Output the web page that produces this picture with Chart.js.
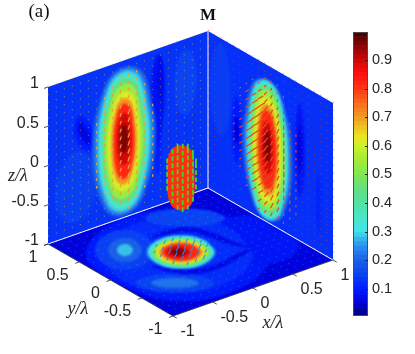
<!DOCTYPE html>
<html>
<head>
<meta charset="utf-8">
<script src="https://cdn.jsdelivr.net/npm/chart.js@4/dist/chart.umd.min.js"></script>
<style>
html,body{margin:0;padding:0;background:#fff;width:415px;height:354px;overflow:hidden}
canvas{position:absolute;top:0;display:block}
#scene{left:0}
#bar{left:340px}
</style>
</head>
<body>
<canvas id="scene" width="415" height="354"></canvas>
<canvas id="bar" width="75" height="354"></canvas>
<script>
/* ---------- axis ticks ---------- */
const xTicks = [-1, -0.5, 0, 0.5, 1];
const yTicks = [1, 0.5, 0, -0.5, -1];
const zTicks = [1, 0.5, 0, -0.5, -1];
const colorbarTicks = [0.1, 0.2, 0.3, 0.4, 0.5, 0.6, 0.7, 0.8, 0.9];

/* ---------- colour map stops ---------- */
const colorStops = [0, 0.05, 0.1, 0.15, 0.2, 0.25, 0.28, 0.3, 0.35, 0.4, 0.45, 0.5, 0.55, 0.6, 0.63, 0.66, 0.7, 0.75, 0.8, 0.85, 0.9, 0.95, 1];
const colorHex = ['#000070','#0000d8','#001cff','#0a44f2','#1a60e8','#2a90f0','#38c0ea','#40e4ea','#4ce6c8','#50e2a4','#64de80','#80e850','#a4ec38','#ccf028','#e8e820','#f0c820','#f09c20','#f86c1c','#ff3414','#ff1010','#d00808','#880404','#400000'];

/* ---------- left wall (y = 1): contours of |M| in (x, z) ---------- */
const leftWallBase = 0.13;
const leftWallLevels = [0.145, 0.15, 0.105, 0.085, 0.07, 0.1, 0.06, 0.2, 0.25, 0.29, 0.35, 0.44, 0.54, 0.62, 0.71, 0.82, 0.9, 0.96];
const leftWallX = [
 [-.38,-.46,-.65,-.84,-.92,-.84,-.65,-.46],
 [.86,.82,.72,.62,.58,.62,.72,.82],
 [.42,.41,.37,.33,.31,.33,.37,.41],
 [.46,.44,.38,.31,.28,.31,.36,.42],
 [.445,.43,.4,.37,.355,.37,.4,.43],
 [-.44,-.52,-.61,-.68,-.64,-.56,-.46,-.42],
 [-.50,-.54,-.60,-.63,-.60,-.55,-.49,-.47],
 [.35,.198,-.05,-.298,-.45,-.298,-.05,.198],
 [.31,.173,-.05,-.273,-.41,-.273,-.05,.173],
 [.275,.152,-.05,-.252,-.375,-.252,-.05,.152],
 [.25,.136,-.05,-.236,-.35,-.236,-.05,.136],
 [.22,.117,-.05,-.217,-.32,-.217,-.05,.117],
 [.19,.099,-.05,-.199,-.29,-.199,-.05,.099],
 [.15,.074,-.05,-.174,-.25,-.174,-.05,.074],
 [.11,.049,-.05,-.149,-.21,-.149,-.05,.049],
 [.08,.031,-.05,-.131,-.18,-.131,-.05,.031],
 [.04,.006,-.05,-.106,-.14,-.106,-.05,.006],
 [0,-.019,-.05,-.081,-.10,-.081,-.05,-.019]
];
const leftWallZ = [
 [-.4,-.085,.05,-.085,-.4,-.715,-.85,-.715],
 [.45,.74,.87,.74,.45,.16,.03,.16],
 [-.25,-.05,.1,-.05,-.25,-.45,-.6,-.45],
 [.35,.76,.93,.76,.35,-.06,-.25,-.06],
 [.6,.81,.9,.81,.6,.39,.3,.39],
 [.26,.42,.50,.36,.18,.04,0,.12],
 [.26,.34,.42,.33,.24,.14,.08,.15],
 [-.03,.749,.92,.749,-.03,-.809,-.98,-.809],
 [-.03,.724,.89,.724,-.03,-.784,-.95,-.784],
 [-.03,.70,.86,.70,-.03,-.76,-.92,-.76],
 [-.03,.667,.82,.667,-.03,-.727,-.88,-.727],
 [-.03,.626,.77,.626,-.03,-.686,-.83,-.686],
 [-.03,.569,.70,.569,-.03,-.629,-.76,-.629],
 [-.03,.487,.60,.487,-.03,-.547,-.66,-.547],
 [-.03,.421,.52,.421,-.03,-.481,-.58,-.481],
 [-.03,.364,.45,.364,-.03,-.424,-.51,-.424],
 [0,.27,.33,.27,0,-.27,-.33,-.27],
 [0,.148,.18,.148,0,-.148,-.18,-.148]
];

/* ---------- right wall (x = 1): contours in (y, z) ---------- */
const rightWallBase = 0.125;
const rightWallLevels = [0.14, 0.095, 0.05, 0.09, 0.05, 0.11, 0.2, 0.25, 0.29, 0.35, 0.44, 0.54, 0.62, 0.71, 0.82, 0.9, 0.96];
const rightWallY = [
 [.97,.92,.8,.68,.63,.68,.8,.92],
 [.62,.596,.54,.484,.46,.484,.54,.596],
 [.575,.565,.54,.515,.505,.515,.54,.565],
 [-.39,-.414,-.47,-.526,-.55,-.526,-.47,-.414],
 [-.435,-.445,-.47,-.495,-.505,-.495,-.47,-.445],
 [-.72,-.73,-.77,-.81,-.82,-.81,-.77,-.73],
 [.45,.298,.05,-.198,-.35,-.198,.05,.298],
 [.41,.273,.05,-.173,-.31,-.173,.05,.273],
 [.38,.255,.05,-.155,-.28,-.155,.05,.255],
 [.36,.242,.05,-.142,-.26,-.142,.05,.242],
 [.335,.227,.05,-.127,-.235,-.127,.05,.227],
 [.31,.211,.05,-.111,-.21,-.111,.05,.211],
 [.27,.186,.05,-.086,-.17,-.086,.05,.186],
 [.226,.159,.05,-.059,-.126,-.059,.05,.159],
 [.194,.139,.05,-.039,-.094,-.039,.05,.139],
 [.14,.106,.05,-.006,-.04,-.006,.05,.106],
 [.10,.081,.05,.019,0,.019,.05,.081]
];
const rightWallZ = [
 [.35,.77,.95,.77,.35,-.07,-.25,-.07],
 [-.05,.244,.37,.244,-.05,-.344,-.47,-.344],
 [-.05,.07,.12,.07,-.05,-.17,-.22,-.17],
 [.15,.57,.75,.57,.15,-.27,-.45,-.27],
 [.18,.404,.5,.404,.18,-.044,-.14,-.044],
 [-.35,-.1,0,-.1,-.35,-.6,-.75,-.6],
 [-.08,.658,.82,.658,-.08,-.818,-.98,-.818],
 [-.08,.65,.81,.65,-.08,-.81,-.97,-.81],
 [-.08,.642,.80,.642,-.08,-.802,-.96,-.802],
 [-.08,.625,.78,.625,-.08,-.785,-.94,-.785],
 [-.08,.592,.74,.592,-.08,-.752,-.90,-.752],
 [-.08,.543,.68,.543,-.08,-.703,-.84,-.703],
 [-.08,.469,.59,.469,-.08,-.629,-.75,-.629],
 [-.08,.396,.50,.396,-.08,-.556,-.66,-.556],
 [-.08,.33,.42,.33,-.08,-.49,-.58,-.49],
 [-.05,.22,.28,.22,-.05,-.32,-.38,-.32],
 [-.03,.134,.17,.134,-.03,-.194,-.23,-.194]
];

/* ---------- floor (z = -1): contours in (x, y) ---------- */
const floorBase = 0.055;
const floorLevels = [0.095, 0.09, 0.12, 0.145, 0.2, 0.28, 0.15, 0.22, 0.15, 0.065, 0.065, 0.22, 0.3, 0.36, 0.46, 0.56, 0.64, 0.72, 0.82, 0.9, 0.96];
const floorX = [
 [.578,.798,.483,-.204,-.854,-.98,-.759,-.072],
 [.98,.98,.98,.628,.275,.156,.327,.70],
 [.446,.63,.375,-.188,-.722,-.906,-.651,-.088],
 [-.25,-.131,-.213,-.457,-.716,-.835,-.753,-.509],
 [-.351,-.278,-.321,-.462,-.615,-.688,-.645,-.504],
 [-.421,-.383,-.402,-.469,-.545,-.583,-.564,-.497],
 [-.228,-.236,-.418,-.672,-.85,-.842,-.66,-.406],
 [-.352,-.361,-.472,-.623,-.726,-.717,-.606,-.455],
 [.727,.719,.5375,.283,.105,.113,.295,.549],
 [-.126,.086,.318,.422,.472,.546,.417,.354,.251,.032],
 [-.504,-.429,-.262,.014,.347,.518,.385,.081,-.195,-.362],
 [.198,.277,.156,-.103,-.346,-.425,-.304,-.045],
 [.183,.257,.142,-.103,-.331,-.405,-.290,-.045],
 [.167,.237,.129,-.101,-.315,-.385,-.277,-.047],
 [.152,.211,.108,-.105,-.300,-.359,-.256,-.043],
 [.136,.191,.095,-.103,-.284,-.339,-.243,-.045],
 [.113,.161,.075,-.101,-.261,-.309,-.223,-.047],
 [.093,.133,.054,-.101,-.241,-.281,-.202,-.047],
 [.070,.107,.041,-.095,-.218,-.255,-.189,-.053],
 [-.004,.020,-.023,-.110,-.190,-.214,-.171,-.084],
 [-.043,-.026,-.050,-.102,-.151,-.168,-.144,-.092]
];
const floorY = [
 [-.533,.19,.819,.97,.581,-.142,-.771,-.922],
 [-.486,-.093,.249,.331,.12,-.273,-.615,-.697],
 [-.43,.166,.681,.802,.478,-.118,-.633,-.754],
 [.249,.546,.777,.800,.613,.316,.085,.062],
 [.328,.504,.638,.648,.534,.358,.224,.214],
 [.383,.47,.535,.538,.479,.392,.327,.324],
 [-.684,-.502,-.287,-.164,-.2,-.382,-.598,-.72],
 [-.587,-.484,-.356,-.28,-.297,-.4,-.528,-.604],
 [.378,.56,.7755,.898,.862,.68,.4645,.342],
 [.487,.517,.447,.228,-.061,-.286,-.130,.141,.361,.448],
 [.003,-.222,-.407,-.454,-.381,-.32,-.299,-.368,-.321,-.135],
 [-.155,.115,.351,.411,.269,-.001,-.237,-.297],
 [-.143,.110,.333,.390,.257,.004,-.219,-.276],
 [-.131,.107,.316,.369,.245,.007,-.202,-.255],
 [-.118,.097,.290,.343,.232,.017,-.176,-.229],
 [-.106,.094,.273,.322,.220,.020,-.159,-.208],
 [-.088,.088,.247,.292,.202,.026,-.133,-.178],
 [-.073,.081,.221,.263,.187,.033,-.107,-.149],
 [-.055,.082,.204,.238,.169,.032,-.090,-.124],
 [.003,.092,.171,.194,.149,.060,-.019,-.042],
 [.034,.089,.136,.147,.118,.063,.016,.005]
];

/* ---------- central focal spot: outline and its arrows ---------- */
const spotX = [.032,.011,-.074,-.159,-.18,-.159,-.074,.011];
const spotY = [-.025,-.009,.057,.123,.139,.123,.057,-.009];
const spotZ = [-.05,.28,.36,.28,-.05,-.38,-.47,-.38];
const spotArrowX = [-.182,-.140,-.1,-.061,-.021,.019,.043];
const spotArrowY = [.141,.108,.078,.047,.016,-.015,-.033];
const spotArrowZ = [
 [-.22,-.13,-.04,.05,.13],
 [-.38,-.29,-.2,-.11,-.02,.07,.16,.25],
 [-.46,-.37,-.28,-.19,-.1,-.01,.08,.17,.26,.32],
 [-.49,-.4,-.31,-.22,-.13,-.04,.05,.14,.23,.32],
 [-.46,-.37,-.28,-.19,-.1,-.01,.08,.17,.26,.32],
 [-.36,-.27,-.18,-.09,0,.09,.18,.24],
 [-.2,-.11,-.02,.07,.13]
];

/* ---------- arrow lengths on the 21 x 21 grids (one digit per arrow) ---------- */
const gridPositions = [1,.9,.8,.7,.6,.5,.4,.3,.2,.1,0,-.1,-.2,-.3,-.4,-.5,-.6,-.7,-.8,-.9,-1];
const leftArrowLengths = [
 "111111111111111111111","111111111111111111111","111111111222111111111","111111112222111111111",
 "111111122332211111111","111111123443211111111","111111123453211111111","111111223453221111111",
 "111111223453221111111","111111223453221111111","111111223453221111111","111111223453221111111",
 "111111223453221111111","111111223453221111111","111111223454221111111","111111223454221111111",
 "111111123454321111111","111111112343211111111","111111111232111111111","111111111121111111111",
 "111111111111111111111"
];
const rightArrowLengths = [
 "111111111111111111111","111111111111111111111","111111111222111111111","111111122333211111111",
 "111111234443211111111","111112456543211111111","111112578654321111111","111112689765432111111",
 "111123799765432111111","111123899665432111111","111124999655432111111","111124999655432111111",
 "111124999655432111111","111123899655432111111","111112799655432111111","111112689755432111111",
 "111111478765432111111","111111356765432111111","111111124565321111111","111111112344211111111",
 "111111111111111111111"
];
const floorArrowLengths = [
 "111111111111111111111","111111111111111111111","111111111111111111111","111111111111111111111",
 "111111111111111111111","111111111111111111111","111111111111111111111","111111113443111111111",
 "111111134554311111111","111111146666411111111","111111146776411111111","111111146664111111111",
 "111111113451111111111","111111111111111111111","111111111111111111111","111111111111111111111",
 "111111111111111111111","111111111111111111111","111111111111111111111","111111111111111111111",
 "111111111111111111111"
];
const rightArrowDy = [-.0137,-.0137,-.0137,-.0137,-.0137,-.0137,-.0137,-.0137,-.0137,-.010,-.0072,-.0072,-.0032,-.0032,-.0032,-.0032,-.0032,-.0032,-.0032,-.0032,-.0032];
const rightArrowDz = [.0128,.0128,.0128,.0128,.0128,.0128,.0128,.0128,.0128,.0138,.0147,.0147,.014,.014,.014,.014,.014,.014,.014,.014,.014];

/* ---------- view of the box ---------- */
const project = (x, y, z) => ({x: 190.5 + 80*x - 62.5*y, y: 173.5 - 28*x - 36*y - 78.5*z});
const onLeft  = (a, b) => project(a, 1, b);
const onRight = (a, b) => project(1, a, b);
const onFloor = (a, b) => project(a, b, -1);
const wallMaps = {left: onLeft, right: onRight, floor: onFloor};

function colorFor(v) {
  let i = 0;
  while (i < colorStops.length - 2 && v > colorStops[i+1]) i++;
  const t = (v - colorStops[i]) / (colorStops[i+1] - colorStops[i]);
  const rgb = s => [1,3,5].map(k => parseInt(s.substr(k,2),16));
  const a = rgb(colorHex[i]), b = rgb(colorHex[i+1]);
  return 'rgb(' + a.map((c,k) => Math.round(c + (b[k]-c)*t)).join(',') + ')';
}

/* ---------- datasets, in painting order ---------- */
const paint = [];
const noPoints = {pointRadius: 0, pointHoverRadius: 0, showLine: true};

function addPlane(map, value) {
  const c = [-1, 1];
  paint.push({...noPoints, data: [map(c[0],c[0]), map(c[1],c[0]), map(c[1],c[1]), map(c[0],c[1])],
    fill: 'shape', backgroundColor: colorFor(value), borderWidth: 0, borderColor: 'rgba(0,0,0,0)', tension: 0});
}
function addContours(wall, levels, as, bs) {
  const map = wallMaps[wall];
  levels.forEach((v, i) => {
    const pts = as[i].map((a, k) => map(a, bs[i][k]));
    pts.push(pts[0], pts[1]);
    paint.push({...noPoints, data: pts, fill: 'shape', backgroundColor: colorFor(v),
      borderWidth: 0, borderColor: 'rgba(0,0,0,0)', tension: 0.4, wall: wall});
  });
}
function addSegments(segs, color, width) {
  const data = [];
  segs.forEach(s => { data.push(s[0], s[1], {x: null, y: null}); });
  paint.push({...noPoints, data: data, borderColor: color, borderWidth: width, tension: 0, fill: false, spanGaps: false});
}
/* short arrows (digit 1) and long arrows go to separate lists */
function arrows(rows, at, dA, dB, wantDots) {
  const segs = [];
  rows.forEach((row, r) => {
    [...row].forEach((ch, c) => {
      const n = Number(ch);
      if (!n || (n === 1) !== wantDots) return;
      const a = gridPositions[c], b = gridPositions[r];
      segs.push([at(a, b), at(a + n*dA(c), b + n*dB(c))]);
    });
  });
  return segs;
}

addPlane(onLeft, leftWallBase);
addPlane(onRight, rightWallBase);
addPlane(onFloor, floorBase);
addContours('left', leftWallLevels, leftWallX, leftWallZ);
addContours('right', rightWallLevels, rightWallY, rightWallZ);
addContours('floor', floorLevels, floorX, floorY);

const leftAt = (a, b) => onLeft(-a, b);
const floorAt = (a, b) => onFloor(-a, b);
const leftDa = () => -.0044, leftDb = () => .0104;
const rightDa = c => rightArrowDy[c], rightDb = c => rightArrowDz[c];
const floorDa = () => -.0155, floorDb = () => .0127;
addSegments(arrows(leftArrowLengths, leftAt, leftDa, leftDb, true), 'rgba(224,158,70,.6)', 1);
addSegments(arrows(leftArrowLengths, leftAt, leftDa, leftDb, false), '#e3a245', 1.2);
addSegments(arrows(rightArrowLengths, onRight, rightDa, rightDb, true), 'rgba(226,60,30,.65)', 1);
addSegments(arrows(rightArrowLengths, onRight, rightDa, rightDb, false), '#dc4d22', 1.2);
addSegments(arrows(floorArrowLengths, floorAt, floorDa, floorDb, true), 'rgba(70,150,245,.45)', 1);
addSegments(arrows(floorArrowLengths, floorAt, floorDa, floorDb, false), 'rgba(50,135,240,.9)', 1.2);

/* white seams and dark outer edges of the box */
addSegments([[project(-1,1,-1), project(1,1,-1)], [project(1,1,-1), project(1,-1,-1)], [project(1,1,-1), project(1,1,1)]], '#f4f6ff', 1);
addSegments([[project(-1,1,-1), project(-1,-1,-1)], [project(-1,-1,-1), project(1,-1,-1)]], '#30303a', 0.8);

/* tick marks */
addSegments([
  ...zTicks.map(t => [project(-1,1,t), project(-1.05,1,t)]),
  ...yTicks.map(t => [project(-1,t,-1), project(-1.05,t,-1)]),
  ...xTicks.map(t => [project(t,-1,-1), project(t,-1.06,-1)])
], '#262626', 0.8);

/* focal spot */
const spotPts = spotX.map((x, i) => project(x, spotY[i], spotZ[i]));
spotPts.push(spotPts[0], spotPts[1]);
paint.push({...noPoints, data: spotPts, fill: 'shape', backgroundColor: '#ff2e12', borderWidth: 0, borderColor: 'rgba(0,0,0,0)', tension: 0.4});
const spotSegs = [];
spotArrowZ.forEach((col, i) => col.forEach(z => spotSegs.push([project(spotArrowX[i], spotArrowY[i], z), project(spotArrowX[i], spotArrowY[i], z + .06)])));
addSegments(spotSegs, '#45d61e', 1.8);

const datasets = paint.slice().reverse();   // the first dataset is painted last

/* clip and soften contour fills */
function prep(chart, i) {
  const ctx = chart.ctx;
  ctx.save();
  const d = datasets[i];
  if (!d || !d.wall) return;
  const map = wallMaps[d.wall];
  const sx = chart.scales.x, sy = chart.scales.y;
  ctx.beginPath();
  [[-1,-1],[1,-1],[1,1],[-1,1]].forEach((c, k) => {
    const p = map(c[0], c[1]);
    const X = sx.getPixelForValue(p.x), Y = sy.getPixelForValue(p.y);
    if (k) ctx.lineTo(X, Y); else ctx.moveTo(X, Y);
  });
  ctx.closePath();
  ctx.clip();
  ctx.filter = 'blur(1px)';
}
const softener = {
  id: 'softener',
  beforeDatasetsDraw(c) { prep(c, datasets.length - 1); },
  afterDatasetDraw(c, a) { c.ctx.restore(); prep(c, a.index - 1); },
  afterDatasetsDraw(c) { c.ctx.restore(); }
};

/* tick labels, axis labels and titles placed through the scales */
const sansTick = '16px "Liberation Sans", Arial, sans-serif';
const texts = {
  id: 'texts',
  afterDraw(c) {
    const ctx = c.ctx, sx = c.scales.x, sy = c.scales.y;
    const put = (s, p, ox, oy, align, font, color) => {
      ctx.font = font; ctx.fillStyle = color || '#262626'; ctx.textAlign = align; ctx.textBaseline = 'middle';
      ctx.fillText(s, sx.getPixelForValue(p.x) + ox, sy.getPixelForValue(p.y) + oy);
    };
    ctx.save();
    zTicks.forEach(t => put(String(t), project(-1,1,t), -9, -3, 'right', sansTick));
    yTicks.forEach(t => put(String(t), project(-1,t,-1), -10.5, 14, 'right', sansTick));
    xTicks.forEach(t => put(String(t), project(t,-1,-1), 7.5, 16, 'left', sansTick));
    const serifI = 'italic 18px "Liberation Serif", "Times New Roman", serif';
    put('z/\u03bb', {x: 18, y: 176}, 0, 0, 'center', serifI);
    put('y/\u03bb', {x: 78, y: 309}, 0, 0, 'center', serifI);
    put('x/\u03bb', {x: 273, y: 323}, 0, 0, 'center', serifI);
    put('M', {x: 208, y: 16}, 0, 0, 'center', 'bold 17px "Liberation Serif", "Times New Roman", serif', '#111');
    put('(a)', {x: 39, y: 12}, 0, 0, 'center', '19px "Liberation Serif", "Times New Roman", serif', '#111');
    ctx.restore();
  }
};

new Chart(document.getElementById('scene'), {
  type: 'scatter',
  data: {datasets: datasets},
  options: {
    responsive: false, animation: false, events: [],
    layout: {padding: 0},
    plugins: {legend: {display: false}, tooltip: {enabled: false}},
    scales: {
      x: {type: 'linear', display: false, min: 0, max: 415},
      y: {type: 'linear', display: false, min: 0, max: 354, reverse: true}
    }
  },
  plugins: [softener, texts]
});

/* ---------- colour bar ---------- */
const barTop = 0.9975, barBottom = 0.005, barBands = 64;
const bandValues = Array.from({length: barBands}, () => barTop / barBands);
const barDatasets = bandValues.map((h, i) => ({
  data: [h], backgroundColor: colorFor((i + 0.5) / barBands), borderWidth: 0,
  barPercentage: 1, categoryPercentage: 1, stack: 'm'
}));
const barFrame = {
  id: 'barFrame',
  afterDraw(c) {
    const ctx = c.ctx, a = c.chartArea, s = c.scales.y;
    ctx.save();
    ctx.strokeStyle = '#4a4a4a'; ctx.lineWidth = 1;
    ctx.strokeRect(a.left + .5, a.top + .5, a.right - a.left - 1, a.bottom - a.top - 1);
    ctx.strokeStyle = '#262626';
    colorbarTicks.forEach(t => {
      const Y = Math.round(s.getPixelForValue(t)) + .5;
      ctx.beginPath(); ctx.moveTo(a.right - 3, Y); ctx.lineTo(a.right, Y); ctx.stroke();
    });
    ctx.restore();
  }
};
new Chart(document.getElementById('bar'), {
  type: 'bar',
  data: {labels: ['M'], datasets: barDatasets},
  options: {
    responsive: false, animation: false, events: [],
    layout: {padding: {left: 13, top: 32, bottom: 38, right: 0}},
    plugins: {legend: {display: false}, tooltip: {enabled: false}},
    scales: {
      x: {stacked: true, display: false},
      y: {
        stacked: true, position: 'right', min: barBottom, max: barTop,
        afterFit(s) { s.width = 47; },
        afterBuildTicks(s) { s.ticks = colorbarTicks.map(v => ({value: v})); },
        grid: {drawOnChartArea: false, drawTicks: false},
        border: {display: false},
        ticks: {padding: 4, color: '#262626', font: {family: '"Liberation Sans", Arial, sans-serif', size: 14.5}, callback: v => v.toFixed(1)}
      }
    }
  },
  plugins: [barFrame]
});
</script>
</body>
</html>
